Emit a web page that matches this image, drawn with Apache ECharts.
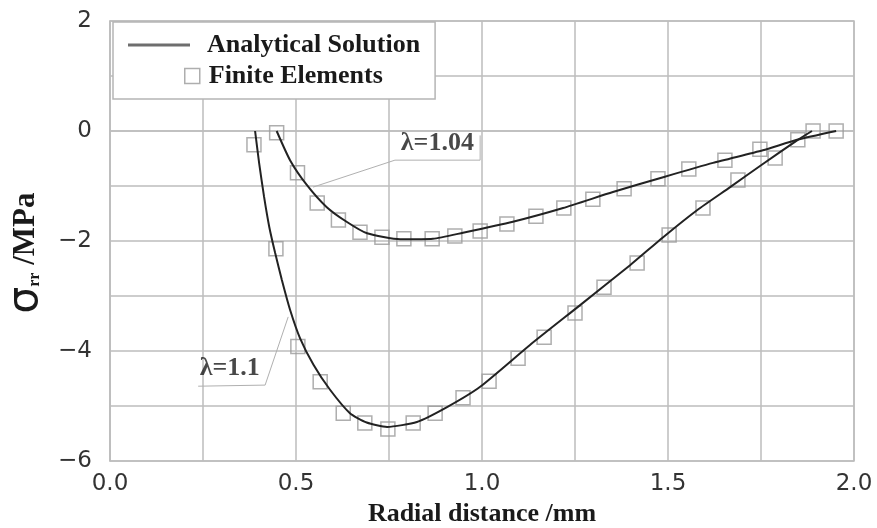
<!DOCTYPE html>
<html>
<head>
<meta charset="utf-8">
<script src="https://cdn.jsdelivr.net/npm/echarts@6/dist/echarts.min.js"></script>
<style>
    html, body { margin: 0; padding: 0; background: #fff; }
    #chart { width: 877px; height: 528px; }
</style>
</head>
<body>
<div id="chart"></div>
<script>
    // analytical curves, [radial distance mm, sigma_rr MPa]
    var analytic_104 = [
        [0.448, 0.00], [0.484, -0.53], [0.529, -0.98], [0.582, -1.38], [0.636, -1.65],
        [0.691, -1.86], [0.780, -1.97], [0.868, -1.96], [0.949, -1.85], [1.083, -1.65],
        [1.218, -1.40], [1.352, -1.11], [1.487, -0.84], [1.621, -0.58], [1.755, -0.35],
        [1.847, -0.16], [1.952, 0.00]
    ];
    var analytic_11 = [
        [0.390, 0.00], [0.401, -0.59], [0.414, -1.19], [0.428, -1.74], [0.444, -2.22],
        [0.462, -2.71], [0.484, -3.25], [0.511, -3.77], [0.547, -4.25], [0.591, -4.70],
        [0.645, -5.13], [0.690, -5.30], [0.745, -5.38], [0.825, -5.29], [0.906, -5.02],
        [0.995, -4.65], [1.129, -3.89], [1.263, -3.17], [1.398, -2.44], [1.487, -1.93],
        [1.578, -1.44], [1.667, -1.02], [1.755, -0.60], [1.847, -0.17], [1.887, 0.00]
    ];
    // finite element results
    var fe_104 = [
        [0.448, -0.03], [0.504, -0.76], [0.557, -1.31], [0.614, -1.62], [0.672, -1.84],
        [0.731, -1.93], [0.790, -1.96], [0.866, -1.96], [0.927, -1.91], [0.995, -1.82],
        [1.067, -1.69], [1.145, -1.55], [1.220, -1.40], [1.298, -1.24], [1.382, -1.05],
        [1.473, -0.87], [1.556, -0.69], [1.653, -0.53], [1.747, -0.33], [1.849, -0.16],
        [1.952, 0.00]
    ];
    var fe_11 = [
        [0.387, -0.25], [0.446, -2.14], [0.505, -3.92], [0.565, -4.56], [0.627, -5.13],
        [0.685, -5.31], [0.747, -5.42], [0.815, -5.31], [0.874, -5.13], [0.949, -4.85],
        [1.019, -4.55], [1.097, -4.13], [1.167, -3.75], [1.250, -3.31], [1.328, -2.84],
        [1.417, -2.40], [1.503, -1.89], [1.594, -1.40], [1.688, -0.89], [1.788, -0.49],
        [1.890, 0.00]
    ];
    // annotation leaders and texts
    var leader_104 = [[0.546, -1.02], [0.766, -0.53], [0.995, -0.53], [0.995, -0.08]];
    var leader_11 = [[0.479, -3.38], [0.417, -4.62], [0.237, -4.64]];
    var lambda_labels = [[0.880, -0.22, 'λ=1.04'], [0.322, -4.31, 'λ=1.1']];

    var serif = "'Liberation Serif', 'Times New Roman', serif";
    var sans = "'DejaVu Sans', sans-serif";
    var gridColor = '#bdbdbd';

    var chart = echarts.init(document.getElementById('chart'));

    var option = {
        animation: false,
        backgroundColor: '#fff',
        grid: {
            left: 110, right: 23, top: 21, bottom: 67,
            outerBoundsMode: 'none',
            containLabel: false,
            show: true,
            borderColor: gridColor,
            borderWidth: 1.5
        },
        legend: [
            {
                left: 113, top: 22,
                padding: [10, 15, 41, 15],
                backgroundColor: '#fff',
                borderColor: '#b5b5b5',
                borderWidth: 1.5,
                borderRadius: 0,
                itemWidth: 62, itemHeight: 3,
                selectedMode: false,
                z: 4,
                data: [{
                    name: 'Analytical Solution', icon: 'rect',
                    itemStyle: { color: '#6e6e6e', borderWidth: 0 }
                }],
                textStyle: { fontFamily: serif, fontWeight: 'bold', fontSize: 26, color: '#1a1a1a', padding: [0, 0, 0, 12] }
            },
            {
                left: 184, top: 63,
                padding: 0,
                itemWidth: 15, itemHeight: 15,
                selectedMode: false,
                z: 5,
                data: [{
                    name: 'Finite Elements', icon: 'rect',
                    itemStyle: { color: 'rgba(0,0,0,0)', borderColor: '#9a9a9a', borderWidth: 1.5 }
                }],
                textStyle: { fontFamily: serif, fontWeight: 'bold', fontSize: 26, color: '#1a1a1a', padding: [0, 0, 0, 4] }
            }
        ],
        xAxis: {
            type: 'value',
            min: 0, max: 2, interval: 0.5,
            name: 'Radial distance /mm',
            nameLocation: 'middle',
            nameGap: 39,
            nameTextStyle: { fontFamily: serif, fontWeight: 'bold', fontSize: 26, color: '#1a1a1a' },
            axisLine: { show: true, lineStyle: { color: gridColor, width: 1.5 } },
            axisTick: { show: false },
            axisLabel: {
                margin: 12, fontFamily: sans, fontSize: 23, color: '#333',
                formatter: function (v) { return v.toFixed(1); }
            },
            splitLine: { show: true, lineStyle: { color: gridColor, width: 1.5 } },
            minorTick: { show: false, splitNumber: 2 },
            minorSplitLine: { show: true, lineStyle: { color: gridColor, width: 1.5 } }
        },
        yAxis: {
            type: 'value',
            min: -6, max: 2, interval: 2,
            name: '{s|σ}{sub|rr}{t| /MPa}',
            nameLocation: 'middle',
            nameGap: 62,
            nameRotate: 90,
            nameTextStyle: {
                padding: [0, 24, 0, 0],
                rich: {
                    s: { fontFamily: sans, fontWeight: 'normal', fontSize: 42, color: '#1a1a1a' },
                    sub: { fontFamily: serif, fontWeight: 'bold', fontSize: 16, color: '#1a1a1a', verticalAlign: 'bottom', padding: [0, 0, 4, 0] },
                    t: { fontFamily: serif, fontWeight: 'bold', fontSize: 31, color: '#1a1a1a' }
                }
            },
            axisLine: { show: true, lineStyle: { color: gridColor, width: 1.5 } },
            axisTick: { show: false },
            axisLabel: {
                margin: 18, fontFamily: sans, fontSize: 23, color: '#333',
                formatter: function (v) { return v < 0 ? '\u2212' + (-v) : String(v); }
            },
            splitLine: { show: true, lineStyle: { color: gridColor, width: 1.5 } },
            minorTick: { show: false, splitNumber: 2 },
            minorSplitLine: { show: true, lineStyle: { color: gridColor, width: 1.5 } }
        },
        series: [
            {
                name: 'leader 1.04', type: 'line', data: leader_104,
                symbol: 'none', silent: true, z: 2,
                lineStyle: { color: '#b0b0b0', width: 1 }
            },
            {
                name: 'leader 1.1', type: 'line', data: leader_11,
                symbol: 'none', silent: true, z: 2,
                lineStyle: { color: '#b0b0b0', width: 1 }
            },
            {
                name: 'Finite Elements', type: 'scatter', data: fe_104,
                symbol: 'rect', symbolSize: 14, z: 3,
                itemStyle: { color: 'rgba(0,0,0,0)', borderColor: '#9a9a9a', borderWidth: 1.5 }
            },
            {
                name: 'Finite Elements', type: 'scatter', data: fe_11,
                symbol: 'rect', symbolSize: 14, z: 3,
                itemStyle: { color: 'rgba(0,0,0,0)', borderColor: '#9a9a9a', borderWidth: 1.5 }
            },
            {
                name: 'Analytical Solution', type: 'line', data: analytic_104,
                smooth: 0.2, symbol: 'none', z: 4,
                itemStyle: { color: '#6e6e6e' },
                lineStyle: { color: '#222', width: 2 }
            },
            {
                name: 'Analytical Solution', type: 'line', data: analytic_11,
                smooth: 0.2, symbol: 'none', z: 4,
                itemStyle: { color: '#6e6e6e' },
                lineStyle: { color: '#222', width: 2 }
            },
            {
                name: 'lambda labels', type: 'scatter', data: lambda_labels,
                symbolSize: 0, silent: true, z: 5,
                label: {
                    show: true, position: 'inside',
                    fontFamily: serif, fontWeight: 'bold', fontSize: 26, color: '#1a1a1a',
                    formatter: function (p) { return p.data[2]; }
                }
            }
        ]
    };

    chart.setOption(option);
</script>
</body>
</html>
